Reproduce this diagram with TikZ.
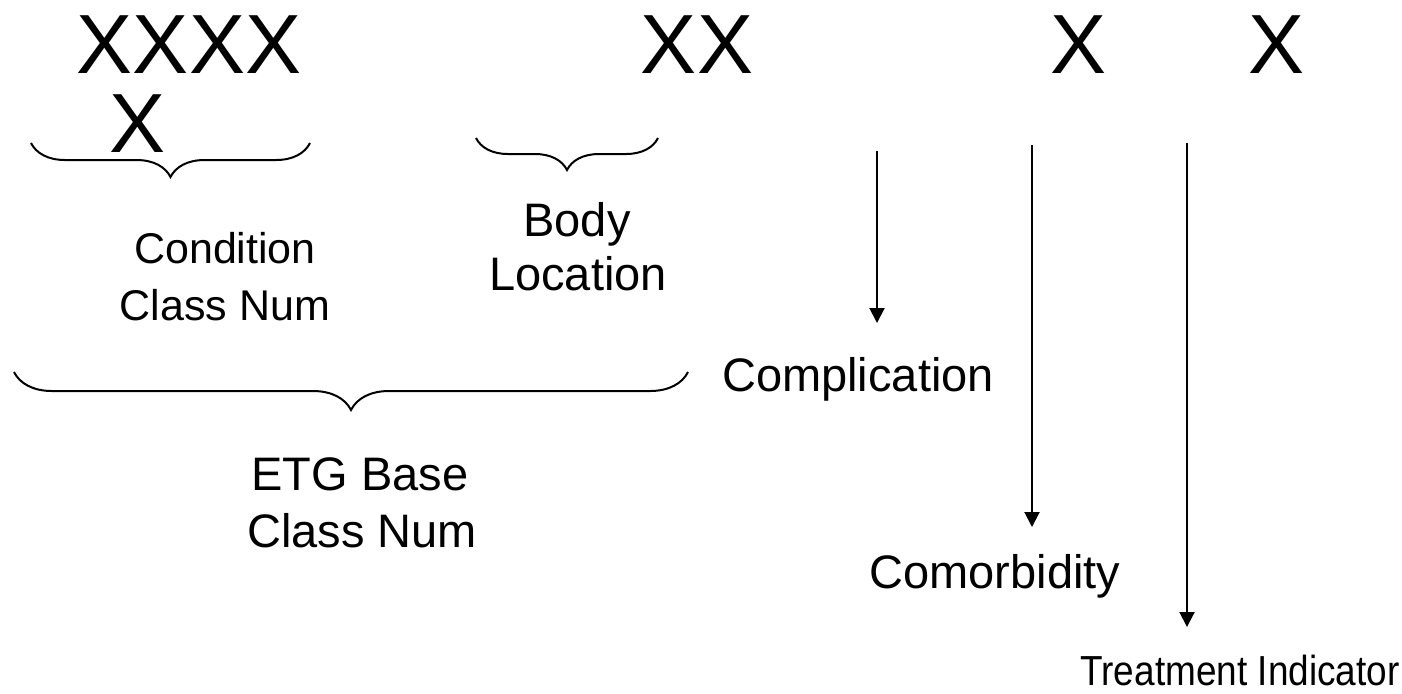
\documentclass[tikz,border=0pt]{standalone}
\usepackage{fontspec}
\setmainfont{Liberation Sans}
\usetikzlibrary{decorations.pathreplacing,arrows.meta}
\begin{document}
\begin{tikzpicture}[x=0.5pt,y=-0.5pt,
  bigx/.style={font=\fontsize{42}{50}\selectfont, inner sep=0pt, anchor=base},
  lbl/.style={font=\fontsize{23.5}{28}\selectfont, inner sep=0pt, anchor=base},
  bracestyle/.style={decorate, decoration={brace, mirror, amplitude=#1}, line width=1pt},
  arr/.style={-{Triangle[width=7.5pt,length=7.5pt]}, line width=1pt}]
\useasboundingbox (0,0) rectangle (1402,693);

% top codes
\node[bigx] (x4) at (189,73) {XXXX};
\node[bigx] (x1) at (138,152) {X};
\node[bigx] (x2) at (697,73) {XX};
\node[bigx] (xc) at (1078,73) {X};
\node[bigx] (xt) at (1276,73) {X};

% braces
\coordinate (b1l) at (31,143);
\coordinate (b1r) at (310,143);
\draw[bracestyle=17pt] (b1l) -- (b1r);
\coordinate (b2l) at (476,138);
\coordinate (b2r) at (658,138);
\draw[bracestyle=16pt] (b2l) -- (b2r);
\coordinate (b3l) at (14,372);
\coordinate (b3r) at (688,372);
\draw[bracestyle=19pt] (b3l) -- (b3r);

% labels
\node[lbl, font=\fontsize{21.5}{26}\selectfont] (cond1) at (225,263) {Condition};
\node[lbl, font=\fontsize{21.5}{26}\selectfont] (cond2) at (225,320) {Class Num};
\node[lbl] (body1) at (577,236) {Body};
\node[lbl] (body2) at (578,290) {Location};
\node[lbl] (etg1) at (360,490) {ETG Base};
\node[lbl] (etg2) at (362,547) {Class Num};
\node[lbl] (comp) at (858,391) {Complication};
\node[lbl] (como) at (995,588) {Comorbidity};
\node[lbl, font=\fontsize{21}{26}\selectfont, xscale=0.88] (treat) at (1240,685) {Treatment Indicator};

% arrows
\coordinate (a1s) at (877,151);
\coordinate (a1e) at (877,323);
\coordinate (a2s) at (1032,145);
\coordinate (a2e) at (1032,527);
\coordinate (a3s) at (1187,143);
\coordinate (a3e) at (1187,627);
\draw[arr] (a1s) -- (a1e);
\draw[arr] (a2s) -- (a2e);
\draw[arr] (a3s) -- (a3e);
\end{tikzpicture}
\end{document}
